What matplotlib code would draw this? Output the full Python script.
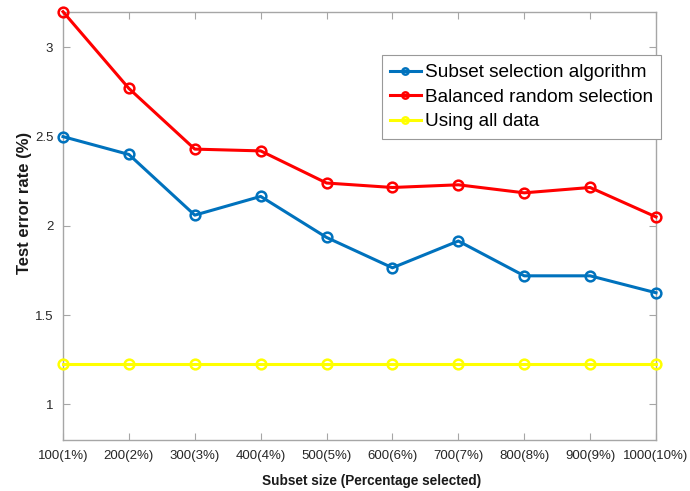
import matplotlib
matplotlib.use("Agg")
import matplotlib.pyplot as plt

plt.rcParams["font.family"] = ["Liberation Sans", "DejaVu Sans"]

# data
subset_labels = ["100(1%)", "200(2%)", "300(3%)", "400(4%)", "500(5%)",
                 "600(6%)", "700(7%)", "800(8%)", "900(9%)", "1000(10%)"]
subset_selection = [2.50, 2.40, 2.06, 2.165, 1.935, 1.765, 1.915, 1.72, 1.72, 1.625]
balanced_random = [3.20, 2.77, 2.43, 2.42, 2.24, 2.215, 2.23, 2.185, 2.215, 2.05]
all_data = [1.228] * 10

x = list(range(1, len(subset_labels) + 1))

fig = plt.figure(figsize=(6.9, 4.91), dpi=100)
ax = fig.add_axes([63 / 690, 1 - 440 / 491, (656 - 63) / 690, (440 - 11.7) / 491])

style = dict(linewidth=2.2, marker="o", markersize=7, markerfacecolor="none",
             markeredgewidth=1.8, clip_on=False, zorder=3)
ax.plot(x, subset_selection, color="#0072BD", label="Subset selection algorithm", **style)
ax.plot(x, balanced_random, color="#FF0000", label="Balanced random selection", **style)
ax.plot(x, all_data, color="#FFFF00", label="Using all data", **style)

ax.set_xlim(1, 10)
ax.set_ylim(0.8, 3.2)
ax.set_xticks(x)
ax.set_xticklabels(subset_labels)
ax.set_yticks([1, 1.5, 2, 2.5, 3])
ax.set_yticklabels(["1", "1.5", "2", "2.5", "3"])

for s in ax.spines.values():
    s.set_color("#a6a6a6")
    s.set_linewidth(1.0)
ax.tick_params(direction="in", length=5, width=0.8, color="#a6a6a6",
               labelcolor="#262626", labelsize=9.5, top=True, right=True, pad=7)

ax.set_xlabel("Subset size (Percentage selected)", fontsize=9.8, fontweight="bold",
              color="#1a1a1a")
ax.set_ylabel("Test error rate (%)", fontsize=12, fontweight="bold",
              color="#1a1a1a")
ax.xaxis.set_label_coords(0.521, -0.080)
ax.yaxis.set_label_coords(-0.053, 0.553)

leg = ax.legend(loc="upper left", bbox_to_anchor=(381.7 / 690, 1 - 55.3 / 491),
                bbox_transform=fig.transFigure, borderaxespad=0, fancybox=False,
                framealpha=1, edgecolor="#999999", fontsize=13.7, handlelength=1.6,
                handletextpad=0.2, borderpad=0.45, labelspacing=0.38, markerscale=0.65)
leg.get_frame().set_linewidth(0.8)
for line in leg.get_lines():
    line.set_linewidth(2.2)

fig.savefig("out.png", dpi=100)
